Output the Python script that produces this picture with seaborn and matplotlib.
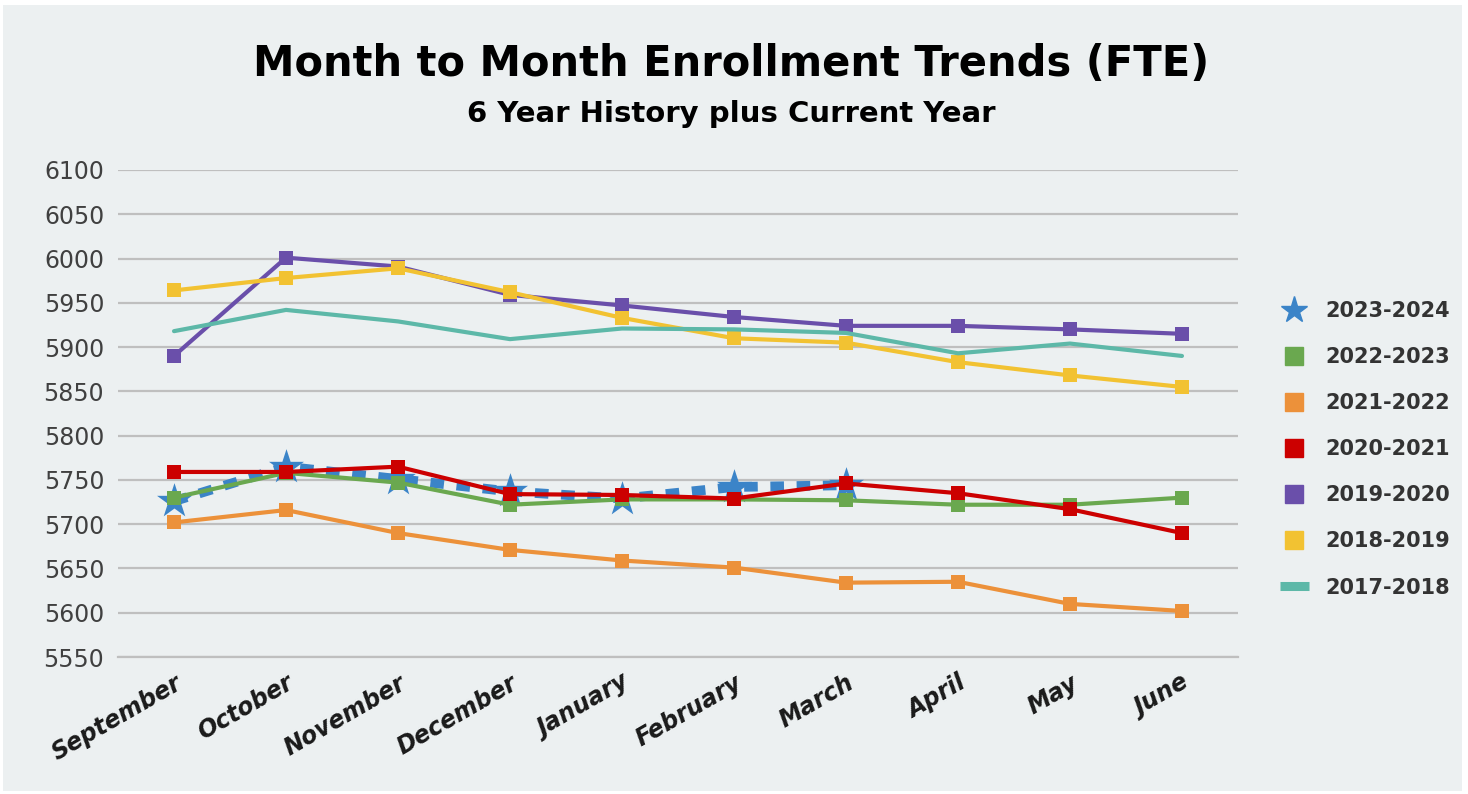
import numpy as np
import pandas as pd
import seaborn as sns
import matplotlib.pyplot as plt
from matplotlib.lines import Line2D
from matplotlib.patches import Rectangle

# 数据
months = ['September', 'October', 'November', 'December', 'January',
          'February', 'March', 'April', 'May', 'June']
fte_2023_2024 = [5726, 5765, 5751, 5737, 5729, 5742, 5744]
fte_2022_2023 = [5730, 5758, 5747, 5722, 5728, 5728, 5727, 5722, 5722, 5730]
fte_2021_2022 = [5702, 5716, 5690, 5671, 5659, 5651, 5634, 5635, 5610, 5602]
fte_2020_2021 = [5759, 5759, 5765, 5734, 5733, 5729, 5746, 5735, 5717, 5690]
fte_2019_2020 = [5890, 6001, 5991, 5959, 5947, 5934, 5924, 5924, 5920, 5915]
fte_2018_2019 = [5964, 5978, 5989, 5962, 5933, 5910, 5905, 5883, 5868, 5855]
fte_2017_2018 = [5918, 5942, 5929, 5909, 5921, 5920, 5916, 5893, 5904, 5890]
y_ticks = list(range(5550, 6101, 50))

series = [
    ('2023-2024', fte_2023_2024, '#3B84C8'),
    ('2022-2023', fte_2022_2023, '#6AA84F'),
    ('2021-2022', fte_2021_2022, '#EC913A'),
    ('2020-2021', fte_2020_2021, '#CC0000'),
    ('2019-2020', fte_2019_2020, '#6A4FAA'),
    ('2018-2019', fte_2018_2019, '#F2C232'),
    ('2017-2018', fte_2017_2018, '#5DB8A8'),
]

sns.set_style('white')
plt.rcParams['font.family'] = ['DejaVu Sans']

bg = '#ECF0F1'
fig = plt.figure(figsize=(14.68, 7.94), dpi=100)
fig.patch.set_facecolor('white')
fig.patches.append(Rectangle((0.002, 0.004), 0.994, 0.99, transform=fig.transFigure,
                             facecolor=bg, edgecolor='none', zorder=-10))
ax = fig.add_axes([0.0804, 0.1725, 0.7629, 0.6134])
ax.set_facecolor(bg)

handles = []
for i, (name, vals, color) in enumerate(series):
    df = pd.DataFrame({'pos': np.arange(len(vals)), 'fte': vals})
    z = 3 + i
    if name == '2023-2024':
        sns.lineplot(data=df, x='pos', y='fte', ax=ax, color=color, lw=7,
                     dashes=False, zorder=z)
        ax.lines[-1].set_dashes((1.4, 1.3))
        ax.lines[-1].set_dash_capstyle('butt')
        sns.scatterplot(data=df, x='pos', y='fte', ax=ax, color=color, marker='*',
                        s=700, linewidth=0, zorder=z)
        handles.append(Line2D([], [], color=color, marker='*', ls='none', ms=20))
    elif name == '2017-2018':
        sns.lineplot(data=df, x='pos', y='fte', ax=ax, color=color, lw=3, zorder=z)
        handles.append(Line2D([], [], color=color, lw=6.5, solid_capstyle='butt'))
    else:
        sns.lineplot(data=df, x='pos', y='fte', ax=ax, color=color, lw=3,
                     marker='s', markersize=10, markeredgewidth=0, zorder=z)
        handles.append(Line2D([], [], color=color, marker='s', ls='none', ms=13))

ax.set_xlim(-0.5, len(months) - 0.5)
ax.set_ylim(5550, 6100)
ax.set_yticks(y_ticks)
ax.set_yticklabels([str(t) for t in y_ticks], fontsize=17, color='#404040')
ax.set_xticks(np.arange(len(months)))
ax.set_xticklabels(months, rotation=30, ha='right', rotation_mode='anchor',
                   fontsize=17, fontweight='bold', fontstyle='italic', color='#1a1a1a')
ax.tick_params(axis='both', length=0, pad=10)
ax.grid(axis='y', color='#BFBFBF', lw=1.6)
ax.set_axisbelow(True)
for s in ['top', 'right', 'left']:
    ax.spines[s].set_visible(False)
ax.spines['bottom'].set_color('#BFBFBF')
ax.spines['bottom'].set_linewidth(1.6)
ax.set_xlabel('')
ax.set_ylabel('')

leg = fig.legend(handles, [s[0] for s in series], loc='center left',
                 bbox_to_anchor=(0.859, 0.434), frameon=False,
                 prop={'size': 15, 'weight': 'bold'}, labelspacing=1.25,
                 handlelength=1.4, handletextpad=0.8)
for t in leg.get_texts():
    t.set_color('#333333')

fig.text(0.498, 0.92, 'Month to Month Enrollment Trends (FTE)', ha='center', va='center',
         fontsize=30, fontweight='bold', color='black')
fig.text(0.498, 0.857, '6 Year History plus Current Year', ha='center', va='center',
         fontsize=21, fontweight='bold', color='black')

fig.savefig('out.png', dpi=100, facecolor=fig.get_facecolor())
